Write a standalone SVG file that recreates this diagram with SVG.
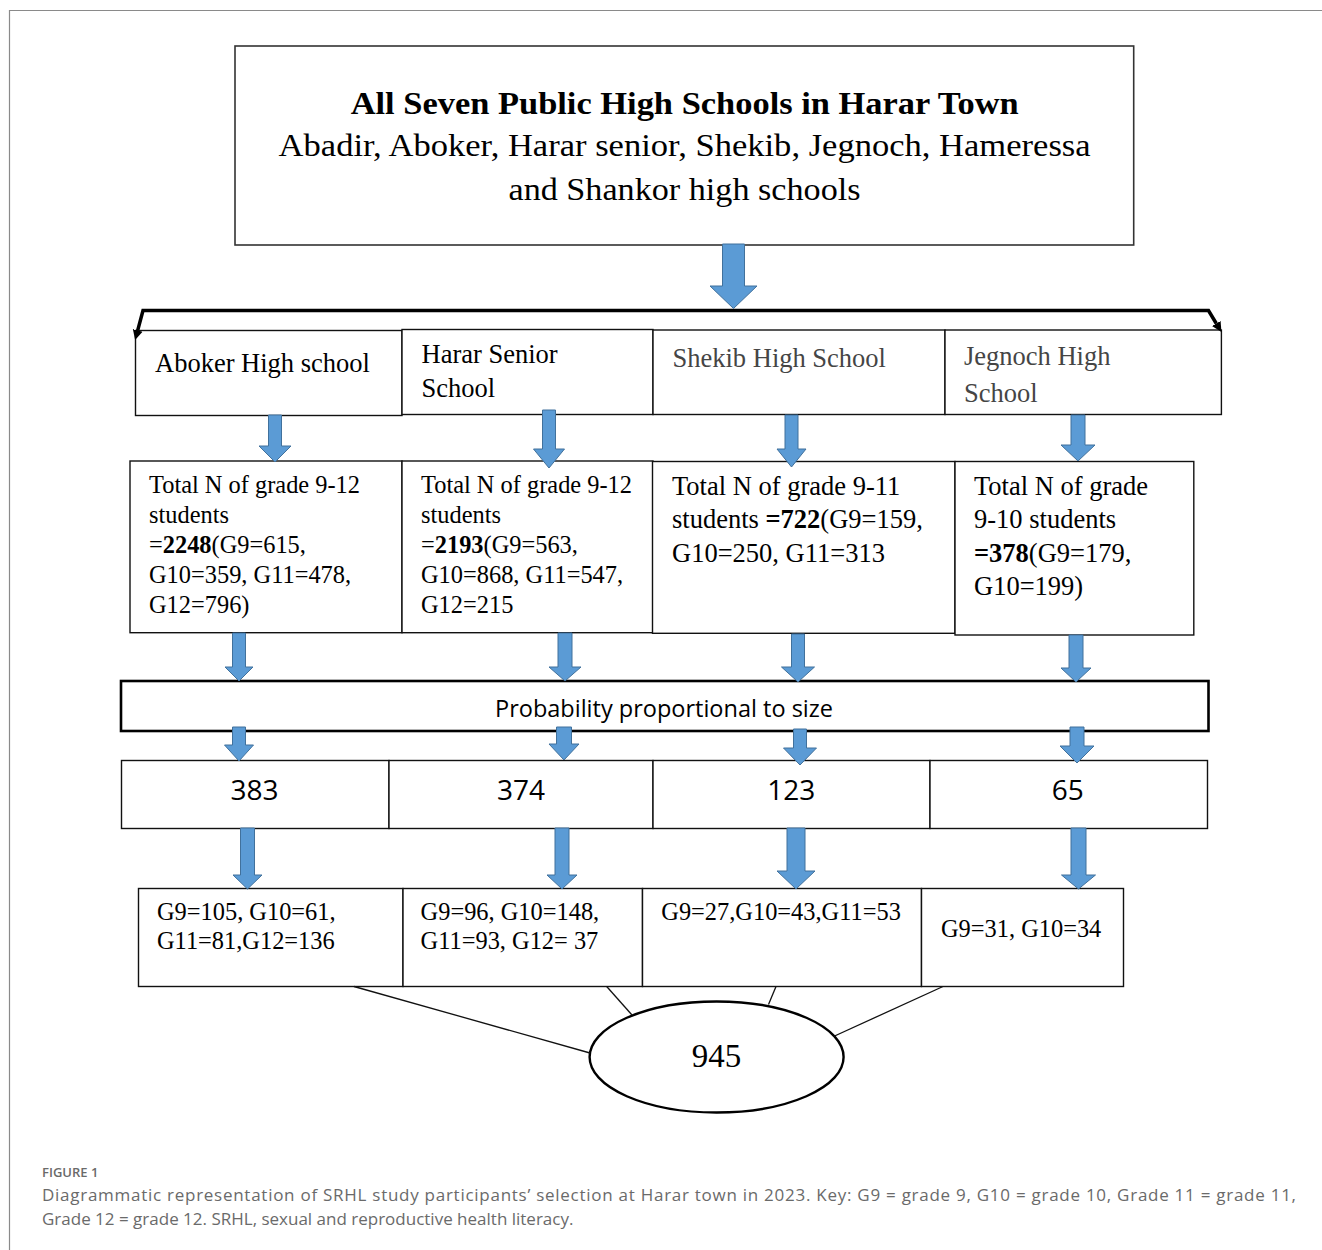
<svg xmlns="http://www.w3.org/2000/svg" width="1322" height="1250" viewBox="0 0 1322 1250">
<style>
.bg{fill:#fff}
.frame{stroke:#8a8a8a;stroke-width:1.2;fill:none}
.box{fill:#fff;stroke:#111;stroke-width:1.4}
.tbox{fill:#fff;stroke:#333;stroke-width:1.6}
.pps{fill:#fff;stroke:#000;stroke-width:2.6}
.serif{font-family:"Liberation Serif","Times New Roman",serif;fill:#000}
.sans{font-family:"Open Sans","Noto Sans",sans-serif;fill:#000}
.t32{font-size:32px}
.t26{font-size:26.5px}
.t24{font-size:24.4px}
.gray{fill:#454545}
.num{font-size:28px}
.arr{fill:#5b9bd5;stroke:#41719c;stroke-width:1}
.brk{fill:none;stroke:#000;stroke-width:3.5}
.ln{stroke:#111;stroke-width:1.3;fill:none}
.cap{font-family:"Open Sans","Noto Sans",sans-serif;fill:#6a6a6a}
</style>
<defs>
<marker id="ah" viewBox="0 0 10 10" refX="0" refY="5" markerUnits="userSpaceOnUse" markerWidth="10" markerHeight="12" orient="auto-start-reverse">
<path d="M0,0 L10,5 L0,10 Z" fill="#000"/>
</marker>
</defs>
<rect class="bg" x="0" y="0" width="1322" height="1250"/>
<path class="frame" d="M9.5,1250 V10.5 H1322"/>

<g id="top">
<rect class="tbox" x="235" y="46" width="898.7" height="199"/>
<text class="serif t32" x="684.7" y="113.5" text-anchor="middle" font-weight="bold" textLength="668" lengthAdjust="spacingAndGlyphs">All Seven Public High Schools in Harar Town</text>
<text class="serif t32" x="684.6" y="155.5" text-anchor="middle" textLength="812" lengthAdjust="spacingAndGlyphs">Abadir, Aboker, Harar senior, Shekib, Jegnoch, Hameressa</text>
<text class="serif t32" x="684.5" y="199.5" text-anchor="middle" textLength="352" lengthAdjust="spacingAndGlyphs">and Shankor high schools</text>
</g>

<g id="aboker">
<rect class="box" x="135.5" y="330.5" width="266.5" height="85"/>
<text class="serif t26" x="155" y="371.5">Aboker High school</text>
</g>
<g id="harar">
<rect class="box" x="402" y="329.5" width="251" height="85"/>
<text class="serif t26" x="421.5" y="362.5">Harar Senior</text>
<text class="serif t26" x="421.5" y="396.5">School</text>
</g>
<g id="shekib">
<rect class="box" x="653" y="330" width="292" height="84.5"/>
<text class="serif t26 gray" x="672.5" y="366.5">Shekib High School</text>
</g>
<g id="jegnoch">
<rect class="box" x="945" y="330" width="276.4" height="84.5"/>
<text class="serif t26 gray" x="964" y="365">Jegnoch High</text>
<text class="serif t26 gray" x="964" y="401.5">School</text>
</g>

<g id="total-aboker">
<rect class="box" x="130" y="461" width="272" height="171.7"/>
<text class="serif t24" x="149" y="493">Total N of grade 9-12</text>
<text class="serif t24" x="149" y="523">students</text>
<text class="serif t24" x="149" y="553">=<tspan font-weight="bold">2248</tspan>(G9=615,</text>
<text class="serif t24" x="149" y="583">G10=359, G11=478,</text>
<text class="serif t24" x="149" y="613">G12=796)</text>
</g>
<g id="total-harar">
<rect class="box" x="402" y="461" width="251" height="171.7"/>
<text class="serif t24" x="421" y="493">Total N of grade 9-12</text>
<text class="serif t24" x="421" y="523">students</text>
<text class="serif t24" x="421" y="553">=<tspan font-weight="bold">2193</tspan>(G9=563,</text>
<text class="serif t24" x="421" y="583">G10=868, G11=547,</text>
<text class="serif t24" x="421" y="613">G12=215</text>
</g>
<g id="total-shekib">
<rect class="box" x="652.5" y="461.5" width="302.5" height="171.8"/>
<text class="serif t26" x="672" y="495">Total N of grade 9-11</text>
<text class="serif t26" x="672" y="528.3">students <tspan font-weight="bold">=722</tspan>(G9=159,</text>
<text class="serif t26" x="672" y="561.7">G10=250, G11=313</text>
</g>
<g id="total-jegnoch">
<rect class="box" x="955" y="461.5" width="238.8" height="173.5"/>
<text class="serif t26" x="974" y="495">Total N of grade</text>
<text class="serif t26" x="974" y="528.3">9-10 students</text>
<text class="serif t26" x="974" y="561.7"><tspan font-weight="bold">=378</tspan>(G9=179,</text>
<text class="serif t26" x="974" y="595">G10=199)</text>
</g>

<g id="pps">
<rect class="pps" x="121" y="681" width="1087.5" height="50"/>
<text class="sans" font-size="23" x="664" y="716.5" text-anchor="middle" textLength="338" lengthAdjust="spacingAndGlyphs">Probability proportional to size</text>
</g>

<g id="n383">
<rect class="box" x="121.5" y="760.5" width="267.5" height="68"/>
<text class="sans num" x="254.6" y="799.5" text-anchor="middle">383</text>
</g>
<g id="n374">
<rect class="box" x="389" y="760.5" width="264" height="68"/>
<text class="sans num" x="521" y="799.5" text-anchor="middle">374</text>
</g>
<g id="n123">
<rect class="box" x="653" y="760.5" width="277" height="68"/>
<text class="sans num" x="791.3" y="799.5" text-anchor="middle">123</text>
</g>
<g id="n65">
<rect class="box" x="930" y="760.5" width="277.5" height="68"/>
<text class="sans num" x="1067.8" y="799.5" text-anchor="middle">65</text>
</g>

<g id="g-aboker">
<rect class="box" x="138.5" y="888.5" width="264.5" height="98"/>
<text class="serif t24" x="157" y="920">G9=105, G10=61,</text>
<text class="serif t24" x="157" y="948.5">G11=81,G12=136</text>
</g>
<g id="g-harar">
<rect class="box" x="403" y="888.5" width="239.5" height="98"/>
<text class="serif t24" x="420.6" y="920">G9=96, G10=148,</text>
<text class="serif t24" x="420.6" y="948.5">G11=93, G12= 37</text>
</g>
<g id="g-shekib">
<rect class="box" x="642.5" y="888.5" width="279" height="98"/>
<text class="serif t24" x="661.3" y="920">G9=27,G10=43,G11=53</text>
</g>
<g id="g-jegnoch">
<rect class="box" x="921.5" y="888.5" width="202" height="98"/>
<text class="serif t24" x="941" y="937">G9=31, G10=34</text>
</g>

<g id="total">
<ellipse cx="716.6" cy="1057" rx="127" ry="55.5" fill="#fff" stroke="#000" stroke-width="2.4"/>
<text class="serif" font-size="33" x="716.6" y="1066.5" text-anchor="middle">945</text>
</g>

<g id="connectors">
<path class="brk" d="M137.7,330.4 L143,310.5 H1208.5 L1216.3,323.5" marker-start="url(#ah)" marker-end="url(#ah)"/>
<line class="ln" x1="354" y1="986.5" x2="590" y2="1053"/>
<line class="ln" x1="606.7" y1="986.5" x2="632" y2="1015"/>
<line class="ln" x1="776" y1="986.5" x2="768.5" y2="1004.5"/>
<line class="ln" x1="943" y1="986.5" x2="833.5" y2="1036.5"/>
<path class="arr" d="M722.5,244 H744.5 V286 H757 L733.5,308.5 L710,286 H722.5 Z"/>
<path class="arr" d="M268.5,415 H281.5 V446 H291 L275,462 L259,446 H268.5 Z"/>
<path class="arr" d="M542.5,410 H555.5 V449 H564.5 L549,468 L533.5,449 H542.5 Z"/>
<path class="arr" d="M785,415 H798 V449 H806 L791.5,467 L777,449 H785 Z"/>
<path class="arr" d="M1071,415 H1085 V445 H1095 L1078,461 L1061,445 H1071 Z"/>
<path class="arr" d="M232.5,633 H245.5 V667 H253 L239,681 L225,667 H232.5 Z"/>
<path class="arr" d="M558,633 H572 V667 H581 L565,681 L549,667 H558 Z"/>
<path class="arr" d="M791.5,634 H804.5 V667 H814.5 L798,682 L781.5,667 H791.5 Z"/>
<path class="arr" d="M1069,635 H1083 V668 H1091 L1076,682 L1061,668 H1069 Z"/>
<path class="arr" d="M232.5,727 H245.5 V745 H253.5 L239,761 L224.5,745 H232.5 Z"/>
<path class="arr" d="M556.5,727 H571.5 V744 H579 L564,760 L549,744 H556.5 Z"/>
<path class="arr" d="M793.5,729 H806.5 V748 H816.5 L800,765 L783.5,748 H793.5 Z"/>
<path class="arr" d="M1070,727 H1084 V746 H1094 L1077,763 L1060,746 H1070 Z"/>
<path class="arr" d="M240.5,828 H254.5 V875 H262 L247.5,889 L233,875 H240.5 Z"/>
<path class="arr" d="M555,828 H569 V875 H577 L562,889 L547,875 H555 Z"/>
<path class="arr" d="M787,828 H805 V871 H815 L796,889 L777,871 H787 Z"/>
<path class="arr" d="M1071,828 H1086 V875 H1095.5 L1078.5,889 L1061.5,875 H1071 Z"/>
</g>

<g id="caption">
<text class="cap" font-size="13" font-weight="600" x="42" y="1176.5">FIGURE 1</text>
<text class="cap" font-size="17" x="42" y="1201" textLength="1254" lengthAdjust="spacing">Diagrammatic representation of SRHL study participants’ selection at Harar town in 2023. Key: G9 = grade 9, G10 = grade 10, Grade 11 = grade 11,</text>
<text class="cap" font-size="17" x="42" y="1225">Grade 12 = grade 12. SRHL, sexual and reproductive health literacy.</text>
</g>
</svg>
